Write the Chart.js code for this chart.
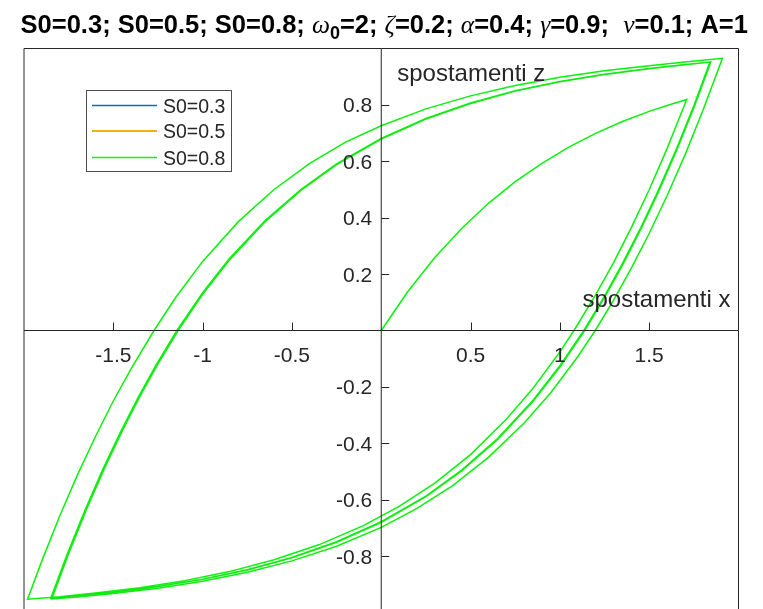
<!DOCTYPE html>
<html lang="it">
<head>
<meta charset="UTF-8">
<title>Ciclo di isteresi</title>
<script src="https://cdn.jsdelivr.net/npm/chart.js"></script>
<style>
  body { margin: 0; padding: 0; overflow: hidden; background: #fff; }
  canvas { display: block; }
</style>
</head>
<body>
<canvas id="grafico" width="763" height="630"></canvas>
<script>
const serie = ['S0=0.3', 'S0=0.5', 'S0=0.8'];
const colori = ['#0072BD', '#EDB120', '#00FF00'];
const spessori = [0.1, 0.1, 1.5];
const xTicks = [-1.5, -1, -0.5, 0.5, 1, 1.5];
const zTicks = [-0.8, -0.6, -0.4, -0.2, 0.2, 0.4, 0.6, 0.8];

// spostamenti x, un ramo per riga (primo carico, poi i cicli)
const spostX = [
  0, 0.15, 0.3, 0.45, 0.6, 0.75, 0.9, 1.05, 1.2, 1.35, 1.5, 1.6, 1.71,
  1.6, 1.5, 1.4, 1.3, 1.2, 1.079, 1.0, 0.85, 0.7, 0.5, 0.3, 0.1, -0.1, -0.35, -0.6, -0.85, -1.1, -1.35, -1.6, -1.8, -1.98,
  -1.9, -1.8, -1.7, -1.6, -1.5, -1.4, -1.272, -1.15, -1.0, -0.8, -0.6, -0.4, -0.2, 0, 0.25, 0.5, 0.75, 1.0, 1.25, 1.5, 1.7, 1.91,
  1.8, 1.7, 1.6, 1.5, 1.4, 1.3, 1.198, 1.1, 0.95, 0.8, 0.6, 0.4, 0.2, 0, -0.25, -0.5, -0.75, -1.0, -1.25, -1.5, -1.7, -1.845,
  -1.75, -1.65, -1.55, -1.45, -1.35, -1.25, -1.137, -1.0, -0.85, -0.65, -0.45, -0.25, 0, 0.25, 0.5, 0.75, 1.0, 1.25, 1.5, 1.7, 1.84,
  1.75, 1.65, 1.55, 1.45, 1.35, 1.25, 1.134, 1.0, 0.85, 0.65, 0.45, 0.25, 0, -0.25, -0.5, -0.75, -1.0, -1.25, -1.5, -1.7, -1.85,
  -1.76, -1.66, -1.56, -1.46, -1.36, -1.26, -1.144, -1.0, -0.85, -0.65, -0.45, -0.25, 0, 0.25, 0.5, 0.75, 1.0, 1.25, 1.5, 1.7, 1.845,
  1.755, 1.655, 1.555, 1.455, 1.355, 1.255, 1.139, 1.0, 0.85, 0.65, 0.45, 0.25, 0, -0.25, -0.5, -0.75, -1.0, -1.25, -1.5, -1.7, -1.848
];
// spostamenti z, stessi punti
const spostZ = [
  0, 0.139, 0.259, 0.362, 0.451, 0.528, 0.593, 0.650, 0.699, 0.741, 0.777, 0.798, 0.819,
  0.645, 0.499, 0.365, 0.240, 0.126, 0, -0.076, -0.205, -0.315, -0.440, -0.541, -0.624, -0.692, -0.760, -0.813, -0.855, -0.887, -0.912, -0.931, -0.944, -0.953,
  -0.817, -0.658, -0.511, -0.376, -0.250, -0.135, 0, 0.118, 0.245, 0.386, 0.500, 0.593, 0.668, 0.726, 0.786, 0.832, 0.869, 0.898, 0.921, 0.939, 0.952, 0.965,
  0.779, 0.622, 0.478, 0.344, 0.221, 0.107, 0, -0.093, -0.220, -0.328, -0.450, -0.550, -0.631, -0.698, -0.765, -0.817, -0.857, -0.889, -0.914, -0.933, -0.945, -0.952,
  -0.791, -0.634, -0.489, -0.356, -0.232, -0.118, 0, 0.128, 0.250, 0.386, 0.497, 0.588, 0.679, 0.750, 0.805, 0.849, 0.882, 0.908, 0.928, 0.942, 0.952,
  0.797, 0.640, 0.495, 0.361, 0.237, 0.122, 0, -0.125, -0.247, -0.384, -0.495, -0.587, -0.678, -0.749, -0.805, -0.848, -0.882, -0.908, -0.928, -0.941, -0.949,
  -0.796, -0.639, -0.494, -0.360, -0.236, -0.122, 0, 0.134, 0.255, 0.390, 0.500, 0.591, 0.681, 0.752, 0.807, 0.850, 0.883, 0.909, 0.929, 0.943, 0.952,
  0.798, 0.641, 0.496, 0.362, 0.237, 0.123, 0, -0.130, -0.251, -0.387, -0.498, -0.589, -0.680, -0.751, -0.806, -0.849, -0.882, -0.908, -0.929, -0.942, -0.950
];

const punti = spostX.map((x, i) => ({ x: x, y: spostZ[i] }));
const testo = '#262626';
const fontSans = '"Liberation Sans", Arial, sans-serif';

// assi passanti per l'origine, riquadro, etichette e legenda
const assi = {
  id: 'assi',
  afterDatasetsDraw(chart) {
    const ctx = chart.ctx, a = chart.chartArea;
    const sx = chart.scales.x, sy = chart.scales.y;
    const x0 = sx.getPixelForValue(0), y0 = sy.getPixelForValue(0);
    ctx.save();
    ctx.strokeStyle = testo;
    ctx.lineWidth = 1;
    ctx.beginPath();
    ctx.moveTo(a.left, a.bottom); ctx.lineTo(a.left, a.top);
    ctx.lineTo(a.right, a.top); ctx.lineTo(a.right, a.bottom);
    ctx.stroke();

    ctx.beginPath();
    ctx.moveTo(a.left, y0); ctx.lineTo(a.right, y0);
    ctx.moveTo(x0, a.top); ctx.lineTo(x0, a.bottom);
    xTicks.forEach(v => {
      const px = Math.round(sx.getPixelForValue(v)) + 0.5;
      ctx.moveTo(px, y0); ctx.lineTo(px, y0 - 8);
    });
    zTicks.forEach(v => {
      const py = Math.round(sy.getPixelForValue(v)) + 0.5;
      ctx.moveTo(x0, py); ctx.lineTo(x0 + 8, py);
    });
    ctx.stroke();

    ctx.fillStyle = testo;
    ctx.font = '21px ' + fontSans;
    ctx.textBaseline = 'alphabetic';
    ctx.textAlign = 'center';
    xTicks.forEach(v => ctx.fillText(String(v), sx.getPixelForValue(v), y0 + 31.5));
    ctx.textAlign = 'right';
    zTicks.forEach(v => ctx.fillText(String(v), x0 - 9, sy.getPixelForValue(v) + 7.5));

    ctx.font = '24px ' + fontSans;
    ctx.textAlign = 'left';
    ctx.fillText('spostamenti z', x0 + 16, 81);
    ctx.textAlign = 'right';
    ctx.fillText('spostamenti x', a.right - 8, y0 - 24);

    // legenda
    ctx.fillStyle = '#fff';
    ctx.fillRect(86.5, 90.5, 145, 81);
    ctx.lineWidth = 1;
    ctx.strokeStyle = '#4d4d4d';
    ctx.strokeRect(86.5, 90.5, 145, 81);
    ctx.font = '19.5px ' + fontSans;
    ctx.textAlign = 'left';
    const righe = [105.5, 131, 157.5];
    serie.forEach((nome, i) => {
      const ly = righe[i];
      ctx.strokeStyle = colori[i];
      ctx.lineWidth = i === 1 ? 1.8 : 1.3;
      ctx.beginPath();
      ctx.moveTo(92, ly); ctx.lineTo(157, ly);
      ctx.stroke();
      ctx.fillStyle = testo;
      ctx.fillText(nome, 163, Math.round(ly) + 7);
    });
    ctx.restore();
  }
};

// titolo con lettere greche e pedice
const titolo = {
  id: 'titolo',
  afterDraw(chart) {
    const ctx = chart.ctx, a = chart.chartArea;
    const grassetto = 'bold 25.5px ' + fontSans;
    const greco = 'italic 25.5px "Liberation Serif", "DejaVu Serif", serif';
    const pedice = 'bold 18px ' + fontSans;
    const pezzi = [
      ['S0=0.3; S0=0.5; S0=0.8; ', grassetto, 0],
      ['\u03C9', greco, 0], ['0', pedice, 6], ['=2; ', grassetto, 0],
      ['\u03B6', greco, 0], ['=0.2; ', grassetto, 0],
      ['\u03B1', greco, 0], ['=0.4; ', grassetto, 0],
      ['\u03B3', greco, 0], ['=0.9;  ', grassetto, 0],
      ['\u03BD', greco, 0], ['=0.1; A=1', grassetto, 0]
    ];
    ctx.save();
    ctx.fillStyle = '#000';
    ctx.textBaseline = 'alphabetic';
    ctx.textAlign = 'left';
    let larghezza = 0;
    pezzi.forEach(p => { ctx.font = p[1]; larghezza += ctx.measureText(p[0]).width; });
    let x = (a.left + a.right) / 2 - larghezza / 2 + 3;
    pezzi.forEach(p => {
      ctx.font = p[1];
      ctx.fillText(p[0], x, 33 + p[2]);
      x += ctx.measureText(p[0]).width;
    });
    ctx.restore();
  }
};

new Chart(document.getElementById('grafico'), {
  type: 'scatter',
  data: {
    datasets: serie.map((nome, i) => ({
      label: nome,
      data: punti,
      showLine: true,
      borderColor: colori[i],
      backgroundColor: colori[i],
      borderWidth: spessori[i],
      pointRadius: 0,
      tension: 0
    }))
  },
  options: {
    responsive: false,
    animation: false,
    devicePixelRatio: 1,
    layout: { padding: { left: 24, right: 24.5, top: 48.5, bottom: 17.5 } },
    scales: {
      x: { type: 'linear', min: -2, max: 2, display: false },
      y: { type: 'linear', min: -1, max: 1, display: false }
    },
    plugins: {
      legend: { display: false },
      title: { display: false },
      tooltip: { enabled: false }
    }
  },
  plugins: [assi, titolo]
});
</script>
</body>
</html>
